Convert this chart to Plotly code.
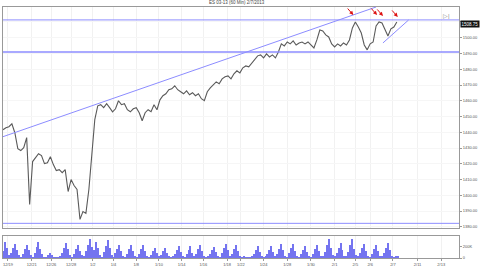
import plotly.graph_objects as go
from plotly.subplots import make_subplots

title = "ES 03-13 (60 Min) 2/7/2013"

# price samples, every quarter trading day from the left edge
price = [1441.6, 1442.9, 1443.5, 1445.4, 1439.7, 1429.6, 1428.4, 1430.2, 1436.6, 1394.2,
         1421.4, 1423.9, 1426.4, 1425.2, 1420.1, 1420.7, 1424.5, 1419.5, 1415.7, 1416.3,
         1414.4, 1416.3, 1402.4, 1410.0, 1406.2, 1403.7, 1384.7, 1389.7, 1388.5, 1403.7,
         1424.5, 1448.0, 1456.8, 1457.5, 1455.6, 1458.1, 1455.6, 1453.0, 1454.9, 1460.0,
         1457.5, 1458.1, 1454.3, 1453.0, 1454.9, 1455.6, 1452.4, 1447.3, 1452.4, 1454.3,
         1453.0, 1457.5, 1454.3, 1460.6, 1463.2, 1464.4, 1467.0, 1467.6, 1469.5, 1467.0,
         1465.7, 1464.4, 1466.3, 1463.8, 1465.1, 1463.2, 1464.4, 1461.3, 1460.0, 1465.7,
         1468.2, 1470.1, 1472.0, 1470.8, 1473.9, 1475.2, 1475.8, 1473.9, 1477.1, 1479.0,
         1477.7, 1480.9, 1482.1, 1481.5, 1484.0, 1485.9, 1488.5, 1489.1, 1487.2, 1489.7,
         1487.8, 1489.1, 1487.2, 1491.0, 1496.1, 1494.8, 1497.3, 1496.1, 1498.0, 1495.4,
         1496.7, 1497.3, 1496.1, 1497.3, 1495.4, 1493.5, 1498.6, 1504.9, 1504.3, 1501.8,
         1500.5, 1496.1, 1494.2, 1496.1, 1494.8, 1496.7, 1495.4, 1498.6, 1506.2, 1510.0,
         1506.8, 1503.0, 1495.4, 1492.3, 1496.1, 1497.3, 1507.5, 1510.0, 1509.4, 1505.6,
         1501.1, 1505.6, 1506.8, 1510.0]
price_step = 0.25

# volume (thousands of contracts), every sixth of a trading day
volume = [120, 300, 180, 60, 90, 180, 260, 150, 60, 25,
          80, 160, 240, 140, 50, 25, 100, 200, 300, 170,
          70, 25, 20, 50, 100, 60, 20, 20, 25, 30,
          90, 190, 280, 160, 60, 25, 80, 170, 240, 130,
          50, 30, 120, 230, 340, 200, 150, 300, 180, 60,
          25, 110, 210, 320, 180, 60, 25, 90, 170, 240,
          120, 40, 25, 80, 170, 240, 130, 40, 25, 80,
          160, 240, 120, 40, 25, 60, 130, 180, 100, 30,
          60, 120, 180, 90, 30, 25, 30, 70, 150, 220,
          110, 35, 25, 70, 150, 220, 100, 30, 80, 160,
          240, 120, 30, 25, 30, 70, 140, 200, 110, 30,
          25, 90, 180, 260, 140, 40, 80, 160, 240, 120,
          35, 25, 30, 25, 20, 25, 30, 70, 150, 220,
          110, 35, 25, 30, 70, 150, 220, 110, 30, 80,
          170, 260, 140, 40, 25, 90, 180, 260, 130, 35,
          25, 70, 150, 220, 110, 30, 25, 80, 170, 240,
          120, 35, 30, 110, 230, 340, 180, 50, 30, 90,
          190, 280, 150, 40, 30, 110, 230, 340, 170, 50,
          30, 90, 180, 260, 130, 40, 25, 80, 170, 240,
          120, 35, 30, 100, 190, 280, 150, 40, 25, 30, 40]
volume_step = 1 / 6

tick_days = [0.42, 2.42, 4.08, 5.75, 7.58, 9.33, 11.25, 13.17, 15.08, 16.92, 18.92,
             20.08, 22.0, 24.0, 26.0, 28.0, 29.75, 31.0, 32.92, 35.0, 37.0]
tick_labels = ["12/19", "12/21", "12/26", "12/28", "1/2", "1/4", "1/8", "1/10", "1/14",
               "1/16", "1/18", "1/22", "1/24", "1/28", "1/30", "2/1", "2/5", "2/6", "2/7",
               "2/11", "2/13"]

price_ticks = [1380, 1390, 1400, 1410, 1420, 1430, 1440, 1450, 1460, 1470, 1480, 1490, 1500, 1510]

levels = [1511.3, 1491.0, 1382.2]
level_widths = [1, 1.5, 1]
trend_lines = [((0.0, 1437.2), (31.5, 1519.5)), ((32.08, 1496.7), (34.25, 1511.3))]
arrow_days = [29.58, 31.58, 32.08, 33.33]
arrow_prices = [1514.4, 1514.4, 1513.8, 1513.2]
last_price = 1508.75

x_end = 38.5

fig = make_subplots(rows=2, cols=1, shared_xaxes=True)

px_ = [i * price_step for i in range(len(price))]
fig.add_trace(go.Scatter(x=px_, y=price, mode="lines",
                         line=dict(color="#5a5a5a", width=1.1), hoverinfo="skip"),
              row=1, col=1)
vx = [i * volume_step for i in range(len(volume))]
fig.add_trace(go.Bar(x=vx, y=volume, marker=dict(color="#7474f0", line=dict(width=0)),
                     width=volume_step * 0.55, hoverinfo="skip"), row=2, col=1)

for lv, w in zip(levels, level_widths):
    fig.add_shape(type="line", xref="x", yref="y", x0=0, x1=x_end, y0=lv, y1=lv,
                  line=dict(color="#8c8cff", width=w))
for (a, b) in trend_lines:
    fig.add_shape(type="line", xref="x", yref="y", x0=a[0], y0=a[1], x1=b[0], y1=b[1],
                  line=dict(color="#8c8cff", width=1))
for d, p in zip(arrow_days, arrow_prices):
    fig.add_annotation(x=d, y=p, xref="x", yref="y", text="", showarrow=True,
                       arrowhead=2, arrowsize=0.8, arrowwidth=1, arrowcolor="#dd1111",
                       ax=-7, ay=-8)

fig.add_annotation(x=1.0, y=last_price, xref="paper", yref="y", text=f"{last_price:.2f}",
                   showarrow=False, xanchor="left", font=dict(size=4.5, color="white"),
                   bgcolor="#111111", borderpad=0.5, xshift=1)
fig.add_annotation(x=0.5, y=1.0, xref="paper", yref="paper", text=title, showarrow=False,
                   yanchor="bottom", font=dict(size=4.5, color="#444444"), xshift=6)
fig.add_annotation(x=0.985, y=0.985, xref="paper", yref="paper", text="▷|", showarrow=False,
                   xanchor="right", yanchor="top", font=dict(size=6, color="#888888"))

fig.update_layout(width=480, height=270, margin=dict(l=2, r=16, t=7, b=12),
                  paper_bgcolor="white", plot_bgcolor="white", showlegend=False,
                  bargap=0, font=dict(family="Liberation Sans", color="#555555"),
                  yaxis=dict(domain=[0.118, 1.0]), yaxis2=dict(domain=[0.0, 0.088]))
fig.update_xaxes(range=[0, x_end], showgrid=True, gridcolor="#f1f1f1", gridwidth=1,
                 tickvals=tick_days, ticktext=tick_labels, showline=True,
                 linecolor="#999999", mirror=True, ticks="", zeroline=False)
fig.update_xaxes(ticks="outside", ticklen=2, tickcolor="#999999",
                 tickfont=dict(size=4), row=2, col=1)
fig.update_yaxes(side="right", range=[1379.0, 1519.5], tickvals=price_ticks,
                 ticktext=[f"{v:.2f}" if v != 1510 else "" for v in price_ticks],
                 tickfont=dict(size=4),
                 ticks="outside", ticklen=2, tickcolor="#999999", showgrid=True,
                 gridcolor="#f6f6f6", showline=True, linecolor="#999999", mirror=True,
                 zeroline=False, row=1, col=1)
fig.update_yaxes(side="right", range=[0, 400], tickvals=[0, 200], ticktext=["0", "200K"],
                 tickfont=dict(size=4), ticks="outside", ticklen=2, tickcolor="#999999",
                 showgrid=False, showline=True, linecolor="#999999", mirror=True,
                 zeroline=False, row=2, col=1)

fig.write_html("out.html")
